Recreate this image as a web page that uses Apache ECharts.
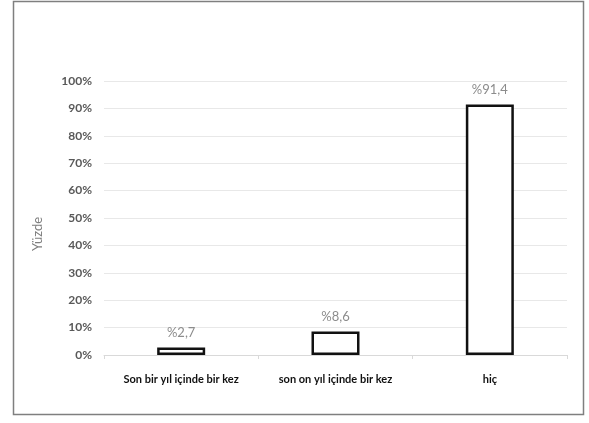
<!DOCTYPE html>
<html>
<head>
<meta charset="utf-8">
<script src="https://cdn.jsdelivr.net/npm/echarts@6/dist/echarts.min.js"></script>
<style>
  html, body { margin: 0; padding: 0; background: #ffffff; }
  #chart { width: 589px; height: 423px; }
</style>
</head>
<body>
<div id="chart"></div>
<script>
// Answer categories and their shares (percent)
const categories = ['Son bir yıl içinde bir kez', 'son on yıl içinde bir kez', 'hiç'];
const values = [2.7, 8.6, 91.4];
const valueLabels = ['%2,7', '%8,6', '%91,4'];
const yTicks = [0, 10, 20, 30, 40, 50, 60, 70, 80, 90, 100];
const axisTitle = 'Yüzde';

const FONT = 'Lato, "Open Sans", sans-serif';

const chart = echarts.init(document.getElementById('chart'), null, { renderer: 'canvas' });

chart.setOption({
  animation: false,
  backgroundColor: '#ffffff',
  grid: { left: 104, right: 22, top: 81, bottom: 68, containLabel: false },
  graphic: [
    {
      type: 'rect',
      shape: { x: 13.5, y: 1.5, width: 570, height: 413 },
      style: { fill: 'none', stroke: '#7f7f7f', lineWidth: 1.5 },
      silent: true
    },
    {
      type: 'text',
      x: 38, y: 234,
      rotation: Math.PI / 2,
      style: {
        text: axisTitle,
        fill: '#7f7f7f',
        font: '13px ' + FONT,
        align: 'center',
        verticalAlign: 'middle'
      },
      silent: true
    }
  ],
  xAxis: {
    type: 'category',
    data: categories,
    axisLine: { show: true, lineStyle: { color: '#d9d9d9', width: 1 } },
    axisTick: { show: true, alignWithLabel: false, interval: 0, length: 4, lineStyle: { color: '#d9d9d9' } },
    axisLabel: {
      interval: 0,
      margin: 19,
      color: '#111111',
      fontFamily: FONT,
      fontSize: 11,
      fontWeight: 'bold'
    },
    splitLine: { show: false }
  },
  yAxis: {
    type: 'value',
    min: yTicks[0],
    max: yTicks[yTicks.length - 1],
    interval: 10,
    axisLine: { show: false },
    axisTick: { show: false },
    axisLabel: {
      margin: 12,
      color: '#595959',
      fontFamily: FONT,
      fontSize: 12,
      fontWeight: 'bold',
      formatter: v => v + '%'
    },
    splitLine: { show: true, lineStyle: { color: '#e8e8e8', width: 1 } }
  },
  series: [
    {
      type: 'bar',
      data: values,
      barWidth: 48,
      itemStyle: { color: '#ffffff', borderColor: '#111111', borderWidth: 2.5 },
      label: {
        show: true,
        position: 'top',
        distance: 8,
        color: '#8c8c8c',
        fontFamily: FONT,
        fontSize: 13,
        formatter: p => valueLabels[p.dataIndex]
      }
    }
  ]
});
</script>
</body>
</html>
